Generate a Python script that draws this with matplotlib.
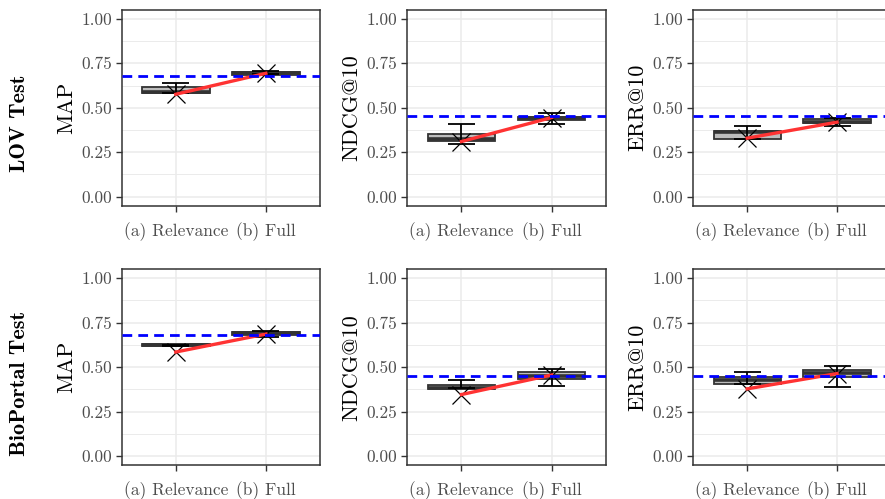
import matplotlib
matplotlib.use("Agg")
import matplotlib.pyplot as plt
import numpy as np

plt.rcParams['axes.formatter.use_mathtext'] = True

FIG_W, FIG_H = 885, 499

rows = ["LOV Test", "BioPortal Test"]
metrics = ["MAP", "NDCG@10", "ERR@10"]
categories = ["(a) Relevance", "(b) Full"]

# box stats per panel: [q1, median, q3] for (a) and (b)
box_a = [[0.585, 0.591, 0.616], [0.315, 0.323, 0.355], [0.326, 0.362, 0.371],
         [0.617, 0.622, 0.630], [0.378, 0.385, 0.402], [0.408, 0.425, 0.445]]
box_b = [[0.685, 0.693, 0.700], [0.433, 0.440, 0.449], [0.413, 0.420, 0.436],
         [0.680, 0.690, 0.697], [0.434, 0.452, 0.471], [0.445, 0.468, 0.482]]
# error bars: (low, high) for (a) and (b)
err_a = [(0.582, 0.638), (0.295, 0.409), (0.323, 0.400),
         (0.617, 0.627), (0.380, 0.426), (0.406, 0.473)]
err_b = [(0.690, 0.709), (0.407, 0.469), (0.400, 0.445),
         (0.672, 0.706), (0.395, 0.490), (0.391, 0.508)]
# cross markers (connected by red line)
point_a = [0.576, 0.310, 0.329, 0.585, 0.346, 0.378]
point_b = [0.694, 0.445, 0.419, 0.686, 0.456, 0.464]
# dashed baseline per metric
baseline = [0.678, 0.452, 0.452]

# panel placement in pixels (left, right, top, bottom)
col_x = [(121.7, 320.0), (407.3, 605.8), (693.3, 891.0)]
row_y = [(10.0, 205.5), (269.3, 465.0)]

fig = plt.figure(figsize=(FIG_W / 100, FIG_H / 100), dpi=100)

TICK_COL = "#4d4d4d"
xs = np.arange(1, 3)

for r in range(2):
    for c in range(3):
        k = r * 3 + c
        l, rr = col_x[c]
        t, b = row_y[r]
        ax = fig.add_axes([l / FIG_W, 1 - b / FIG_H, (rr - l) / FIG_W, (b - t) / FIG_H])

        stats = []
        for bx in (box_a[k], box_b[k]):
            stats.append(dict(q1=bx[0], med=bx[1], q3=bx[2], whislo=bx[0], whishi=bx[2], fliers=[]))
        ax.bxp(stats, positions=xs, widths=0.75, patch_artist=True, showcaps=False,
               boxprops=dict(facecolor="#bdbdbd", edgecolor="#333333", linewidth=1.3),
               medianprops=dict(color="#333333", linewidth=2.6),
               whiskerprops=dict(color="#333333", linewidth=1.0), zorder=2)

        lows = [err_a[k][0], err_b[k][0]]
        highs = [err_a[k][1], err_b[k][1]]
        ax.vlines(xs, lows, highs, color="black", linewidth=1.3, zorder=3)
        ax.hlines(lows, xs - 0.15, xs + 0.15, color="black", linewidth=1.3, zorder=3)
        ax.hlines(highs, xs - 0.15, xs + 0.15, color="black", linewidth=1.3, zorder=3)

        pts = [point_a[k], point_b[k]]
        ax.plot(xs, pts, linestyle="none", marker="x", markersize=13, color="black",
                markeredgewidth=0.9, zorder=4)
        ax.plot(xs, pts, color="#ff3333", linewidth=2.4, zorder=5)
        ax.axhline(baseline[c], color="#0000ff", linewidth=2.0, linestyle=(0, (3.5, 2.2)), zorder=6)

        ax.set_xlim(0.4, 2.6)
        ax.set_ylim(-0.05, 1.05)
        yt = [0, 0.25, 0.5, 0.75, 1.0]
        ax.set_yticks(yt)
        ax.set_yticklabels(["%.2f" % v for v in yt], fontfamily="cmr10", fontsize=12.5, color=TICK_COL)
        ax.set_yticks(np.arange(0.125, 1.0, 0.25), minor=True)
        ax.set_xticks(xs)
        ax.set_xticklabels(categories, fontfamily="cmr10", fontsize=12.5, color=TICK_COL)
        ax.tick_params(which="minor", length=0)
        ax.tick_params(which="major", length=4, width=1.0, color="#333333", pad=3)
        ax.tick_params(axis="x", pad=8)
        ax.grid(True, which="major", color="#ebebeb", linewidth=1.1, zorder=0)
        ax.grid(True, which="minor", axis="y", color="#ebebeb", linewidth=0.7, zorder=0)
        ax.set_axisbelow(True)
        for s in ax.spines.values():
            s.set_color("#333333")
            s.set_linewidth(1.1)
        ax.set_ylabel(metrics[c], fontfamily="cmr10", fontsize=16, labelpad=4)

    # row label is centred on the whole row (panel plus x tick labels)
    yc = (row_y[r][0] + row_y[r][1]) / 2 + 16
    fig.text(20 / FIG_W, 1 - yc / FIG_H, rows[r], rotation=90, ha="center", va="center",
             fontfamily="cmb10", fontsize=16)

fig.savefig("out.png", dpi=100)
